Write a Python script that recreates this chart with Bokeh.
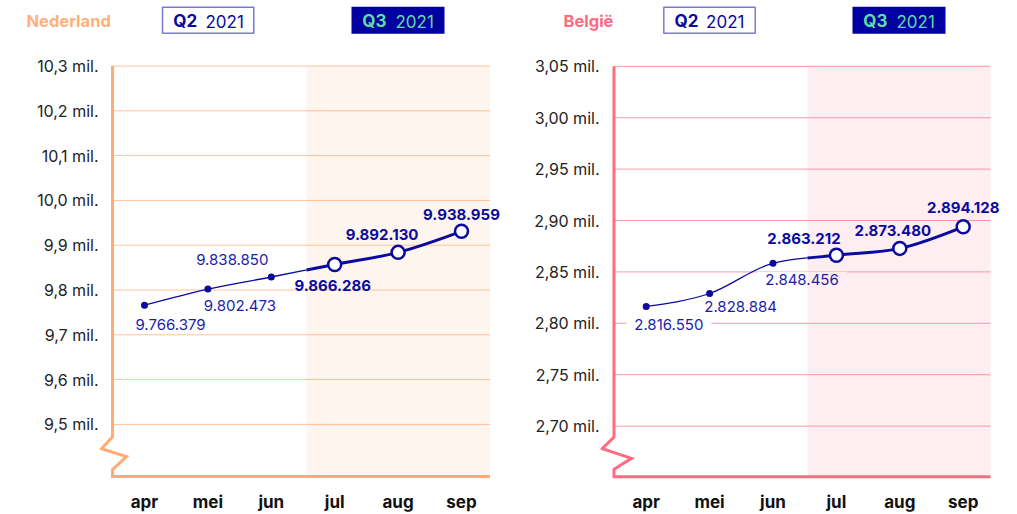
from bokeh.plotting import figure
from bokeh.models import Range1d, FixedTicker
from bokeh.layouts import row, column
from bokeh.embed import file_html
from bokeh.resources import INLINE
from bokeh.core.properties import value

# ---------------- data ----------------
MONTHS = ["apr", "mei", "jun", "jul", "aug", "sep"]
Q3_START = 3  # index of first Q3 month

NL_VALUES = [9.766, 9.802, 9.829, 9.857, 9.884, 9.931]   # plotted positions (mil.)
NL_LABELS = ["9.766.379", "9.802.473", "9.838.850", "9.866.286", "9.892.130", "9.938.959"]
NL_TICKS = [9.5, 9.6, 9.7, 9.8, 9.9, 10.0, 10.1, 10.2, 10.3]
NL_TICK_LABELS = ["9,5 mil.", "9,6 mil.", "9,7 mil.", "9,8 mil.", "9,9 mil.",
                  "10,0 mil.", "10,1 mil.", "10,2 mil.", "10,3 mil."]

BE_VALUES = [2.8164, 2.8290, 2.8584, 2.8662, 2.8729, 2.8939]  # plotted positions (mil.)
BE_LABELS = ["2.816.550", "2.828.884", "2.848.456", "2.863.212", "2.873.480", "2.894.128"]
BE_TICKS = [2.70, 2.75, 2.80, 2.85, 2.90, 2.95, 3.00, 3.05]
BE_TICK_LABELS = ["2,70 mil.", "2,75 mil.", "2,80 mil.", "2,85 mil.", "2,90 mil.",
                  "2,95 mil.", "3,00 mil.", "3,05 mil."]

TITLES = ["Nederland", "België"]
QUARTERS = ["Q2", "Q3"]
YEAR = "2021"

# ---------------- styles / geometry ----------------
FONT = "Inter"
NAVY = "#0a0a9e"
LABEL_NAVY = "#1d1daa"
Q3_GREEN = "#5fdca2"
Q2_BORDER = "#7a7ad6"

NL_GEOM = dict(page_left=0, width=508, frame_left=99, frame_right=506, x0=144.0, step=63.4,
               ytop_px=65.7, ytop_val=10.3, scale=451.0,
               axis_x=112, grid_right=489.5, shade_px=306, base_y=479,
               zig=[(112, 439), (101, 451), (126, 459), (112, 472)],
               accent="#ffab73", grid="#ffc49a", title_color="#ffb07c",
               title_x=26, q2_box=(162, 253.3), q2_txt=(172.7, 205),
               q3_box=(351, 444), q3_txt=(361.7, 395),
               offsets=[(26, 19.5), (32, 16), (-39, -18), (-2, 21), (-16, -17.6), (0, -17.3)])

BE_GEOM = dict(page_left=508, width=509, frame_left=600, frame_right=1008, x0=645.7, step=63.4,
               ytop_px=66.0, ytop_val=3.05, scale=1035.0,
               axis_x=613.5, grid_right=990, shade_px=807, base_y=479.3,
               zig=[(613.5, 439.3), (601.7, 451), (631, 460.7), (613.5, 471.7)],
               accent="#ff6b81", grid="#ff9aa8", title_color="#ff6b80",
               title_x=563, q2_box=(663.3, 754.7), q2_txt=(674, 705.6),
               q3_box=(852, 945), q3_txt=(862.7, 896),
               offsets=[(22.6, 18.4), (31, 13), (29, 16), (-32.4, -16.7), (-7, -18.3), (0, -19)])

PAGE_W = 1017
HEAD_H = 40
MAIN_H = 474
FRAME_TOP, FRAME_BOTTOM = 40, 482   # page pixels of the main plot frame


def monotone_tangents(xs, ys):
    n = len(xs)
    h = [xs[i + 1] - xs[i] for i in range(n - 1)]
    s = [(ys[i + 1] - ys[i]) / h[i] for i in range(n - 1)]
    sign = lambda v: (v > 0) - (v < 0)
    t = [0.0] * n
    for i in range(1, n - 1):
        h0, h1, s0, s1 = h[i - 1], h[i], s[i - 1], s[i]
        pp = (s0 * h1 + s1 * h0) / (h0 + h1)
        t[i] = (sign(s0) + sign(s1)) * min(abs(s0), abs(s1), 0.5 * abs(pp)) or 0.0
    t[0] = (3 * s[0] - t[1]) / 2
    t[-1] = (3 * s[-1] - t[-2]) / 2
    return t


def lerp(a, b, u):
    return (a[0] + (b[0] - a[0]) * u, a[1] + (b[1] - a[1]) * u)


def make_header(geoms):
    h = figure(width=PAGE_W, height=HEAD_H, output_backend="svg", toolbar_location=None,
               x_range=Range1d(0, PAGE_W), y_range=Range1d(HEAD_H, 0),
               x_axis_location=None, y_axis_location=None,
               min_border=0, min_border_left=0, min_border_right=0,
               min_border_top=0, min_border_bottom=0)
    h.outline_line_color = None
    h.xgrid.grid_line_color = None
    h.ygrid.grid_line_color = None
    for g, title in zip(geoms, TITLES):
        b2, b3 = g["q2_box"], g["q3_box"]
        h.rect(x=[(b2[0] + b2[1]) / 2], y=[19.7], width=b2[1] - b2[0], height=26,
               fill_color="white", line_color=Q2_BORDER, line_width=1.5)
        h.rect(x=[(b3[0] + b3[1]) / 2], y=[19.7], width=b3[1] - b3[0], height=27,
               fill_color="#0000a0", line_color=None)
        for (qx, yx), qt, col in ((g["q2_txt"], QUARTERS[0], NAVY),
                                  (g["q3_txt"], QUARTERS[1], Q3_GREEN)):
            h.text(x=[qx], y=[20.5], text=[qt], text_font=value(FONT),
                   text_font_size="17px", text_font_style="bold", text_color=col,
                   text_align="left", text_baseline="middle")
            h.text(x=[yx], y=[20.5], text=[YEAR], text_font=value(FONT),
                   text_font_size="17px", text_color=col,
                   text_align="left", text_baseline="middle")
        h.text(x=[g["title_x"]], y=[20.8], text=[title], text_font=value(FONT),
               text_font_size="16.5px", text_font_style="bold", text_color=g["title_color"],
               text_align="left", text_baseline="middle")
    return h


def make_chart(g, values, labels, ticks, tick_labels):
    X = lambda px: (px - g["x0"]) / g["step"]
    Y = lambda py: g["ytop_val"] - (py - g["ytop_px"]) / g["scale"]

    p = figure(width=g["width"], height=MAIN_H, output_backend="svg", toolbar_location=None,
               x_range=Range1d(X(g["frame_left"]), X(g["frame_right"])),
               y_range=Range1d(Y(FRAME_BOTTOM), Y(FRAME_TOP)),
               min_border_left=g["frame_left"] - g["page_left"],
               min_border_right=g["page_left"] + g["width"] - g["frame_right"],
               min_border_top=0,
               min_border_bottom=MAIN_H - (FRAME_BOTTOM - FRAME_TOP))
    p.outline_line_color = None
    p.xgrid.grid_line_color = None
    p.ygrid.grid_line_color = None

    # axes (labels only)
    p.yaxis.ticker = FixedTicker(ticks=ticks)
    p.yaxis.major_label_overrides = dict(zip(ticks, tick_labels))
    p.yaxis.axis_line_color = None
    p.yaxis.major_tick_line_color = None
    p.yaxis.minor_tick_line_color = None
    p.yaxis.major_tick_out = 0
    p.yaxis.major_label_standoff = 1
    p.yaxis.major_label_text_font = FONT
    p.yaxis.major_label_text_font_size = "16px"
    p.yaxis.major_label_text_color = "#222222"

    idx = list(range(len(MONTHS)))
    p.xaxis.ticker = FixedTicker(ticks=idx)
    p.xaxis.major_label_overrides = dict(zip(idx, MONTHS))
    p.xaxis.axis_line_color = None
    p.xaxis.major_tick_line_color = None
    p.xaxis.minor_tick_line_color = None
    p.xaxis.major_tick_out = 0
    p.xaxis.major_label_standoff = 12
    p.xaxis.major_label_text_font = FONT
    p.xaxis.major_label_text_font_size = "17px"
    p.xaxis.major_label_text_font_style = "bold"
    p.xaxis.major_label_text_color = "#111111"

    xa, xr, xsh = X(g["axis_x"]), X(g["grid_right"]), X(g["shade_px"])
    yb = Y(g["base_y"])
    top = max(ticks)

    # gridlines
    p.segment(x0=[xa] * len(ticks), y0=ticks, x1=[xr] * len(ticks), y1=ticks,
              line_color=g["grid"], line_width=1)

    q2 = idx[:Q3_START]
    q3 = idx[Q3_START:]
    offs = g["offsets"]

    # white boxes behind Q2 labels
    p.text(x=q2, y=[values[i] for i in q2], text=[labels[i] for i in q2],
           x_offset=[offs[i][0] for i in q2], y_offset=[offs[i][1] for i in q2],
           text_font=value(FONT), text_font_size="15px", text_align="center",
           text_baseline="middle", text_alpha=0, background_fill_color="white",
           padding=(8, 2))

    # Q3 shading
    p.quad(left=[xsh], right=[xr], bottom=[yb], top=[top], fill_color=g["accent"],
           fill_alpha=0.115, line_color=None)

    # axis line with break
    zx = [xa] + [X(a) for a, _ in g["zig"]] + [xa, xr]
    zy = [top] + [Y(b) for _, b in g["zig"]] + [yb, yb]
    p.line(zx, zy, line_color=g["accent"], line_width=3, line_join="miter")

    # smooth curve (monotone cubic through the data points)
    t = monotone_tangents(idx, values)
    thin, thick = [], []
    for i in range(len(idx) - 1):
        x0, x1 = idx[i], idx[i + 1]
        d = (x1 - x0) / 3
        P0 = (x0, values[i]); P1 = (x0 + d, values[i] + d * t[i])
        P2 = (x1 - d, values[i + 1] - d * t[i + 1]); P3 = (x1, values[i + 1])
        if i < Q3_START - 1:
            thin.append((P0, P1, P2, P3))
        elif i == Q3_START - 1:
            u = (xsh - x0) / (x1 - x0)
            P01, P12, P23 = lerp(P0, P1, u), lerp(P1, P2, u), lerp(P2, P3, u)
            P012, P123 = lerp(P01, P12, u), lerp(P12, P23, u)
            M = lerp(P012, P123, u)
            thin.append((P0, P01, P012, M))
            thick.append((M, P123, P23, P3))
        else:
            thick.append((P0, P1, P2, P3))
    for segs, lw in ((thin, 1.3), (thick, 3)):
        p.bezier(x0=[s[0][0] for s in segs], y0=[s[0][1] for s in segs],
                 x1=[s[3][0] for s in segs], y1=[s[3][1] for s in segs],
                 cx0=[s[1][0] for s in segs], cy0=[s[1][1] for s in segs],
                 cx1=[s[2][0] for s in segs], cy1=[s[2][1] for s in segs],
                 line_color=NAVY, line_width=lw)

    # markers
    p.scatter(x=q2, y=[values[i] for i in q2], size=7, fill_color=NAVY, line_color=None)
    p.scatter(x=q3, y=[values[i] for i in q3], size=13, fill_color="white",
              line_color=NAVY, line_width=2.5)

    # value labels
    p.text(x=q2, y=[values[i] for i in q2], text=[labels[i] for i in q2],
           x_offset=[offs[i][0] for i in q2], y_offset=[offs[i][1] for i in q2],
           text_font=value(FONT), text_font_size="15px", text_align="center",
           text_baseline="middle", text_color=LABEL_NAVY)
    p.text(x=q3, y=[values[i] for i in q3], text=[labels[i] for i in q3],
           x_offset=[offs[i][0] for i in q3], y_offset=[offs[i][1] for i in q3],
           text_font=value(FONT), text_font_size="15px", text_font_style="bold",
           text_align="center", text_baseline="middle", text_color=NAVY)
    return p


p1 = make_chart(NL_GEOM, NL_VALUES, NL_LABELS, NL_TICKS, NL_TICK_LABELS)
p2 = make_chart(BE_GEOM, BE_VALUES, BE_LABELS, BE_TICKS, BE_TICK_LABELS)
header = make_header([NL_GEOM, BE_GEOM])
layout = column(header, row(p1, p2))

open("out.html", "w").write(file_html(layout, INLINE))
